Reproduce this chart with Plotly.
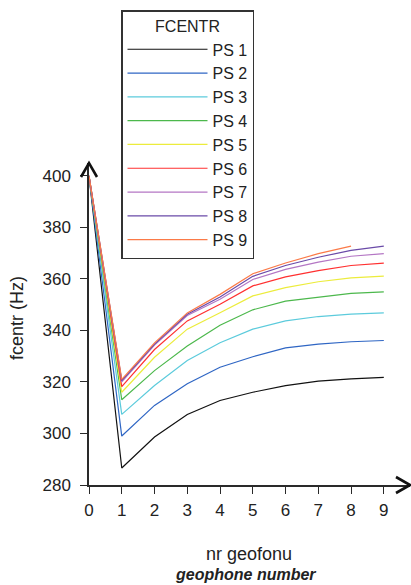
import plotly.graph_objects as go

geophones = [0, 1, 2, 3, 4, 5, 6, 7, 8, 9]
series_names = ["PS 1", "PS 2", "PS 3", "PS 4", "PS 5", "PS 6", "PS 7", "PS 8", "PS 9"]
ps1 = [400, 286.6, 298.6, 307.4, 312.8, 316.0, 318.6, 320.3, 321.2, 321.8]
ps2 = [400, 299.0, 310.9, 319.3, 325.7, 329.8, 333.2, 334.7, 335.6, 336.1]
ps3 = [400, 307.4, 318.6, 328.3, 335.2, 340.5, 343.7, 345.4, 346.3, 346.8]
ps4 = [400, 313.1, 324.4, 334.0, 342.0, 348.0, 351.4, 353.0, 354.4, 355.0]
ps5 = [400, 316.0, 329.6, 340.5, 346.9, 353.4, 356.6, 358.9, 360.4, 361.1]
ps6 = [400, 318.2, 332.6, 343.7, 350.2, 357.3, 360.8, 363.2, 365.2, 366.1]
ps7 = [400, 320.0, 334.3, 345.8, 352.1, 359.8, 363.7, 366.5, 368.8, 369.8]
ps8 = [400, 320.5, 334.7, 346.3, 353.0, 361.0, 365.2, 368.4, 371.1, 372.7]
ps9 = [400, 321.0, 335.2, 346.8, 354.0, 362.0, 366.2, 369.8, 372.7]
series = [ps1, ps2, ps3, ps4, ps5, ps6, ps7, ps8, ps9]
colors = ["#111111", "#2f66c4", "#5ccbdc", "#4cb84c", "#ecec3c",
          "#ff3030", "#b476c4", "#6a4aa8", "#fb7a48"]
x_ticks = [0, 1, 2, 3, 4, 5, 6, 7, 8, 9]
y_ticks = [280, 300, 320, 340, 360, 380, 400]

FONT = "Liberation Sans, Arial, sans-serif"
AX = "#2a2a2a"

fig = go.Figure()
for name, vals, col in zip(series_names, series, colors):
    fig.add_trace(go.Scatter(x=geophones[:len(vals)], y=vals, mode="lines", name=name,
                             line=dict(color=col, width=1.2)))

fig.update_layout(
    width=411, height=585,
    margin=dict(l=89, r=1, t=163, b=100),
    paper_bgcolor="white", plot_bgcolor="white",
    font=dict(family=FONT, size=16, color="#222"),
    showlegend=True,
    legend=dict(
        x=0.0997, y=1.475, xanchor="left", yanchor="top",
        bgcolor="white", bordercolor="#333", borderwidth=1.5,
        title=dict(text="FCENTR", side="top center", font=dict(size=16)),
        font=dict(size=16, family=FONT, color="#222"),
        itemwidth=80, tracegroupgap=0,
    ),
    xaxis=dict(range=[0, 9.8], tickvals=x_ticks, ticks="outside", ticklen=7,
               tickcolor=AX, tickwidth=1.3, showline=True, linecolor=AX, linewidth=1.5,
               showgrid=False, zeroline=False, tickfont=dict(size=17, family=FONT),
               ticklabelstandoff=2),
    yaxis=dict(range=[280, 405], tickvals=y_ticks, ticks="outside", ticklen=7,
               tickcolor=AX, tickwidth=1.3, showline=True, linecolor=AX, linewidth=1.5,
               showgrid=False, zeroline=False, tickfont=dict(size=17, family=FONT),
               ticklabelstandoff=6),
    annotations=[
        dict(text="nr geofonu", x=0.498, y=-0.214, xref="paper", yref="paper",
             showarrow=False, font=dict(size=18, family=FONT, color="#222"), yanchor="middle"),
        dict(text="<b><i>geophone number</i></b>", x=0.488, y=-0.279, xref="paper", yref="paper",
             showarrow=False, font=dict(size=16, family=FONT, color="#222"), yanchor="middle"),
        dict(text="fcentr (Hz)", x=-0.224, y=0.519, xref="paper", yref="paper",
             showarrow=False, textangle=-90, font=dict(size=18, family=FONT, color="#222"),
             xanchor="center", yanchor="middle"),
    ],
    shapes=[
        dict(type="path", xref="paper", yref="paper", xsizemode="pixel", ysizemode="pixel",
             xanchor=1, yanchor=0, path="M-14,-8 L0,0 L-14,8",
             line=dict(color="#111", width=2.6)),
        dict(type="path", xref="paper", yref="paper", xsizemode="pixel", ysizemode="pixel",
             xanchor=0, yanchor=1, path="M-8,-14 L0,0 L8,-14",
             line=dict(color="#111", width=2.6)),
    ],
)

fig.write_html("out.html")
